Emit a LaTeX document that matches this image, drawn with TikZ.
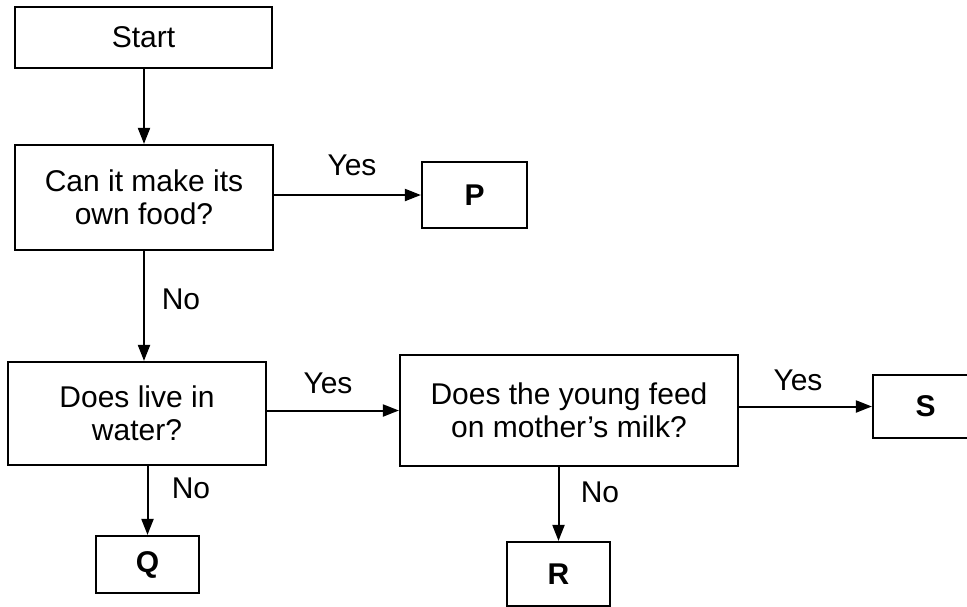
\documentclass[tikz,border=0pt]{standalone}
\usepackage{fontspec}
\setmainfont{Liberation Sans}
\usetikzlibrary{arrows.meta}
\begin{document}
\begin{tikzpicture}[x=1pt,y=-1pt,
  box/.style={draw, line width=2.2pt, inner sep=0pt, align=center, font=\fontsize{30}{33}\selectfont},
  leaf/.style={box, font=\fontsize{30}{33}\selectfont\bfseries},
  lbl/.style={inner sep=0pt, font=\fontsize{30}{33}\selectfont},
  conn/.style={line width=2pt, -{Triangle[length=16pt,width=12pt]}}]
\useasboundingbox (0,0) rectangle (967,606);
\clip (0,0) rectangle (967,606);
% boxes
\node[box, minimum width=257pt, minimum height=61pt] (start) at (143.5,37.5) {Start};
\node[box, minimum width=258pt, minimum height=105pt] (food) at (144,197.5) {Can it make its\\own food?};
\node[leaf, minimum width=105pt, minimum height=66pt] (P) at (474.5,195) {P};
\node[box, minimum width=258pt, minimum height=103pt] (water) at (137,413.5) {Does live in\\water?};
\node[box, minimum width=338pt, minimum height=111pt] (milk) at (569,410.5) {Does the young feed\\on mother's milk?};
\node[leaf, minimum width=105pt, minimum height=63pt] (S) at (925.5,406.5) {S};
\node[leaf, minimum width=103pt, minimum height=57pt] (Q) at (147.5,564.5) {Q};
\node[leaf, minimum width=103pt, minimum height=64pt] (R) at (558.5,574) {R};
% connectors
\draw[conn] (start.south -| food.north) -- (food.north);
\draw[conn] (food.east |- P.west) -- (P.west);
\draw[conn] (food.south) -- (food.south |- water.north);
\draw[conn] (water.east |- milk.west) -- (milk.west);
\draw[conn] (water.south -| Q.north) -- (Q.north);
\draw[conn] (milk.east |- S.west) -- (S.west);
\draw[conn] (milk.south -| R.north) -- (R.north);
% labels
\node[lbl] (yes1) at (352,165) {Yes};
\node[lbl] (no1) at (181,299) {No};
\node[lbl] (yes2) at (328,383) {Yes};
\node[lbl] (no2) at (191,488) {No};
\node[lbl] (yes3) at (798,380) {Yes};
\node[lbl] (no3) at (600,492) {No};
\end{tikzpicture}
\end{document}
